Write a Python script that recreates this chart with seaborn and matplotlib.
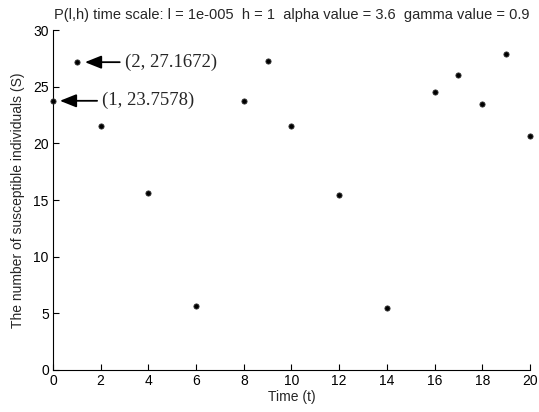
import matplotlib
matplotlib.use("Agg")
import matplotlib.pyplot as plt
import seaborn as sns
import pandas as pd

t_values = [0, 1, 2, 4, 6, 8, 9, 10, 12, 14, 16, 17, 18, 19, 20]
s_values = [23.7578, 27.1672, 21.5, 15.6, 5.65, 23.7, 27.25, 21.5, 15.4, 5.45, 24.5, 26.0, 23.45, 27.9, 20.65]
x_ticks = list(range(0, 21, 2))
y_ticks = list(range(0, 31, 5))
title = "P(l,h) time scale: l = 1e-005  h = 1  alpha value = 3.6  gamma value = 0.9"
ann_labels = ["(2, 27.1672)", "(1, 23.7578)"]

sns.set_style("ticks")
plt.rcParams['font.family'] = ['Liberation Sans', 'DejaVu Sans']
plt.rcParams['xtick.direction'] = 'in'
plt.rcParams['ytick.direction'] = 'in'

fig = plt.figure(figsize=(5.39, 4.12), dpi=100)
ax = fig.add_axes([0.0983, 0.102, 0.885, 0.825])

df = pd.DataFrame({"t": t_values, "S": s_values})
sns.scatterplot(data=df, x="t", y="S", ax=ax, color="black", s=14,
                edgecolor="#333333", linewidth=0.6, zorder=3, clip_on=False)

ax.set_xlim(0, 20)
ax.set_ylim(0, 30)
ax.set_xticks(x_ticks)
ax.set_yticks(y_ticks)
ax.tick_params(labelsize=10, length=4, width=0.8, colors="black", pad=3)
for sp in ["left", "bottom"]:
    ax.spines[sp].set_linewidth(0.8)
    ax.spines[sp].set_color("black")
sns.despine(ax=ax)

ax.set_xlabel("Time (t)", fontsize=10, labelpad=1)
ax.set_ylabel("The number of susceptible individuals (S)", fontsize=10, labelpad=6)
ax.set_title(title, fontsize=10.5, pad=8)

arrow_style = dict(arrowstyle="-|>,head_length=1.0,head_width=0.4", color="black", lw=1.3,
                   shrinkA=0, shrinkB=0)
ax.annotate("", xy=(1.34, s_values[1]), xytext=(2.8, s_values[1]), arrowprops=arrow_style)
ax.text(3.0, s_values[1], ann_labels[0], fontsize=13.5, family=['Liberation Serif'], va="center", ha="left")
ax.annotate("", xy=(0.29, s_values[0]), xytext=(1.85, s_values[0]), arrowprops=arrow_style)
ax.text(2.05, s_values[0], ann_labels[1], fontsize=13.5, family=['Liberation Serif'], va="center", ha="left")

fig.savefig("out.png", dpi=100)
